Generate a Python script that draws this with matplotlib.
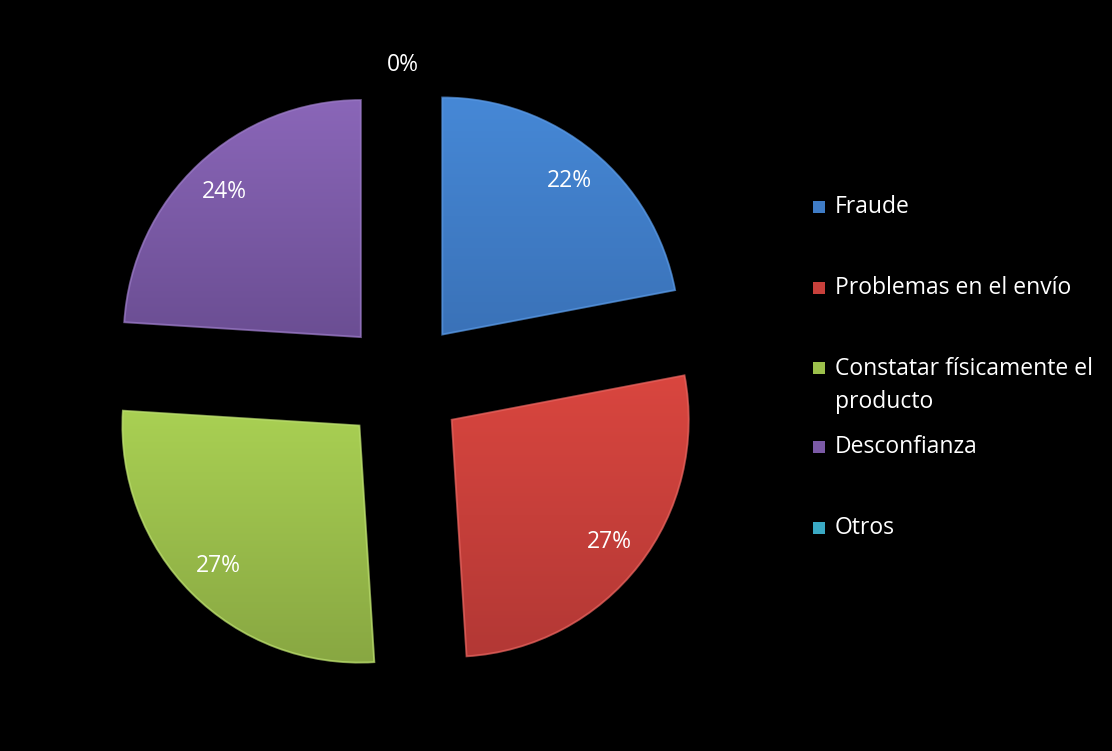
import matplotlib
matplotlib.use('Agg')
import matplotlib.pyplot as plt
import numpy as np
from matplotlib.colors import LinearSegmentedColormap
from matplotlib.patches import Rectangle, PathPatch

# -------------------------------
# Data
# -------------------------------
labels = ['Fraude', 'Problemas en el envío', 'Constatar físicamente el\nproducto',
          'Desconfianza', 'Otros']
values = [22, 27, 27, 24, 0]

# top / bottom shade of each slice
top_colors = ['#4688d6', '#d9463f', '#a9d053', '#8a66b8', '#44bcd6']
bottom_colors = ['#3a72b8', '#b33835', '#88a742', '#6b4e93', '#2f93aa']
rim_colors = ['#5a9ae6', '#e86560', '#bde070', '#9c7cc8', '#60cce4']
legend_colors = ['#3f7cc6', '#c8403b', '#9cc04b', '#7b5aa6', '#3aa9c4']

plt.rcParams['font.family'] = ['Open Sans', 'DejaVu Sans']
fs = 16.5

fig = plt.figure(figsize=(11.12, 7.51), dpi=100, facecolor='black')
ax = fig.add_axes([0, 0, 1, 1])
ax.set_facecolor('black')

wedges, texts, autotexts = ax.pie(
    values, startangle=90, counterclock=False, radius=1,
    explode=[0.26] * len(values), autopct='%1.0f%%', pctdistance=0.84,
    colors=legend_colors, wedgeprops=dict(linewidth=0),
    textprops=dict(color='white', fontsize=fs))

# shade every slice with a vertical gradient, clipped to its wedge
for w, c0, c1, cr, v in zip(wedges, top_colors, bottom_colors, rim_colors, values):
    if v == 0:
        w.set_visible(False)
        continue
    path = w.get_path()
    x0, y0 = path.vertices.min(axis=0)
    x1, y1 = path.vertices.max(axis=0)
    cmap = LinearSegmentedColormap.from_list('shade', [c1, c0])
    grad = np.linspace(1, 0, 200).reshape(-1, 1)
    im = ax.imshow(grad, cmap=cmap, extent=(x0, x1, y0, y1), aspect='auto',
                   origin='upper', zorder=1.5)
    im.set_clip_path(w)
    w.set_zorder(1)
    # light bevel rim
    rim = PathPatch(path, fill=False, edgecolor=cr, linewidth=1.4,
                    alpha=0.7, zorder=1.6)
    ax.add_patch(rim)

for t in autotexts:
    t.set_zorder(3)

# 0% label of the empty slice sits above the pie
autotexts[4].set_position((0, 1.338))

ax.set_xlim(-403 / 237, 709 / 237)
ax.set_ylim(-369 / 237, 382 / 237)
ax.set_aspect('auto')
ax.axis('off')

# legend on the right
legend_y = [207, 288, 368, 447, 528]
for lab, col, y in zip(labels, legend_colors, legend_y):
    fig.patches.append(Rectangle((813 / 1112, 1 - (y + 6) / 751), 12 / 1112, 12 / 751,
                                 transform=fig.transFigure, facecolor=col,
                                 edgecolor='none'))
    if '\n' in lab:
        fig.text(835 / 1112, 1 - (y - 11) / 751, lab, color='white', fontsize=fs,
                 va='top', ha='left', linespacing=1.5)
    else:
        fig.text(835 / 1112, 1 - y / 751, lab, color='white', fontsize=fs,
                 va='center', ha='left')

fig.savefig('out.png', dpi=100, facecolor='black')
